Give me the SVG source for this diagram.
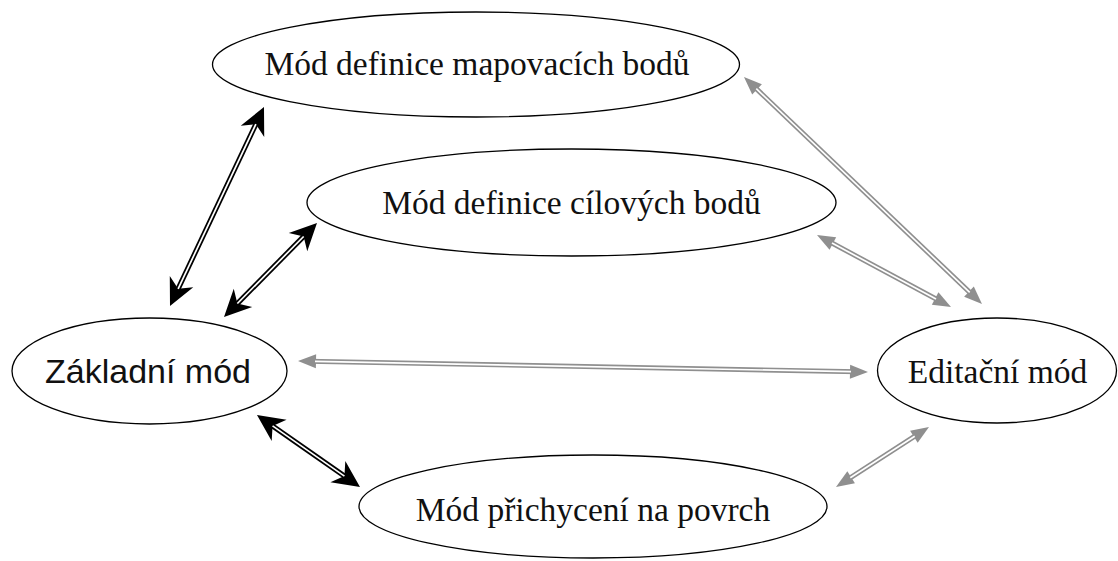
<svg xmlns="http://www.w3.org/2000/svg" width="1118" height="561" viewBox="0 0 1118 561">
<style>
.node ellipse{fill:#fff;stroke:#000;stroke-width:1.3}
.serif{font-family:"Liberation Serif","Times New Roman",serif;font-size:33.5px;fill:#111;text-anchor:middle}
.sans{font-family:"Liberation Sans",Arial,sans-serif;font-size:34px;fill:#111;text-anchor:middle}
.bo{stroke:#000;stroke-width:5.2;fill:none;marker-start:url(#bh);marker-end:url(#bh)}
.go{stroke:#8f8f8f;stroke-width:5;fill:none;marker-start:url(#gh);marker-end:url(#gh)}
.in{stroke:#fff;stroke-width:1.7;fill:none}
</style>
<defs>
<marker id="bh" markerUnits="userSpaceOnUse" orient="auto-start-reverse" refX="0" refY="0" markerWidth="30" markerHeight="30" overflow="visible">
<path d="M14,0 L-13,-13 L-5,0 L-13,13 Z" fill="#000"/>
</marker>
<marker id="gh" markerUnits="userSpaceOnUse" orient="auto-start-reverse" refX="0" refY="0" markerWidth="30" markerHeight="30" overflow="visible">
<path d="M10,0 L-8,-7 L-8,7 Z" fill="#8f8f8f"/>
</marker>
</defs>
<rect width="1118" height="561" fill="#fff"/>
<g id="connectors">
<path class="bo" d="M175.98,293.34 L258.02,119.66"/>
<path class="in" d="M178.11,288.82 L255.89,124.18"/>
<path class="bo" d="M233.85,307.05 L307.15,232.95"/>
<path class="in" d="M237.36,303.49 L303.64,236.51"/>
<path class="bo" d="M268.47,423.02 L348.53,478.98"/>
<path class="in" d="M272.57,425.89 L344.43,476.11"/>
<path class="go" d="M308,361.19 L858,371.81"/>
<path class="in" d="M315,361.33 L851,371.67"/>
<path class="go" d="M751.24,83.90 L974.76,297.10"/>
<path class="in" d="M756.30,88.73 L969.70,292.27"/>
<path class="go" d="M825.81,239.73 L942.19,302.27"/>
<path class="in" d="M831.98,243.05 L936.02,298.95"/>
<path class="go" d="M920.60,432.42 L844.40,481.58"/>
<path class="in" d="M914.72,436.21 L850.28,477.79"/>
</g>
<g id="mapovaci" class="node">
<ellipse cx="476" cy="64.5" rx="263.5" ry="52.5"/>
<text class="serif" x="477" y="75">Mód definice mapovacích bodů</text>
</g>
<g id="cilove" class="node">
<ellipse cx="571.5" cy="202.5" rx="264.5" ry="53.5"/>
<text class="serif" x="571.5" y="214">Mód definice cílových bodů</text>
</g>
<g id="zakladni" class="node">
<ellipse cx="149.5" cy="371" rx="137.5" ry="53"/>
<text class="sans" x="148" y="383">Základní mód</text>
</g>
<g id="editacni" class="node">
<ellipse cx="997" cy="370.5" rx="119.5" ry="52.5"/>
<text class="serif" x="997.5" y="383">Editační mód</text>
</g>
<g id="prichyceni" class="node">
<ellipse cx="593" cy="506.5" rx="234" ry="51.5"/>
<text class="serif" x="593" y="521">Mód přichycení na povrch</text>
</g>
</svg>
